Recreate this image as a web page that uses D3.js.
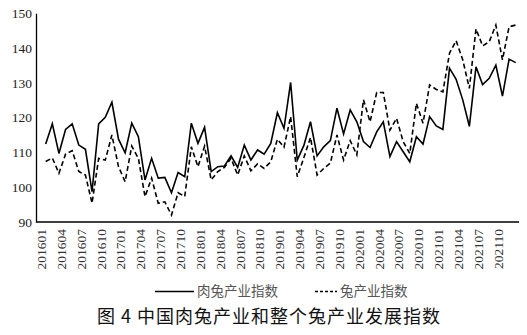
<!DOCTYPE html>
<html><head><meta charset="utf-8">
<script src="https://cdn.jsdelivr.net/npm/d3@7/dist/d3.min.js"></script>
<style>
body{margin:0;background:#fff;}
svg{display:block;}
</style></head>
<body>
<svg id="chart" width="527" height="335"></svg>
<script>
const months = [];
for (let y = 2016; y <= 2021; y++) for (let m = 1; m <= 12; m++) months.push(String(y) + String(m).padStart(2, "0"));

const meatRabbitIndex = [
112.4,118.2,109.7,116.6,118.2,112.1,110.9,98.7,118.2,120.1,124.4,113.8,
109.9,118.4,114.5,102.1,108.3,102.6,102.8,98.4,104.2,103.0,118.4,112.6,
117.2,104.5,105.9,106.1,109.0,105.7,112.1,107.8,110.7,109.5,112.6,121.4,
116.9,130.1,107.8,112.0,118.8,109.0,111.6,113.4,122.7,115.3,122.2,118.8,
113.1,111.4,115.9,118.8,108.8,113.1,110.2,107.3,114.5,112.4,120.3,117.6,
116.6,134.2,131.0,125.1,117.5,134.6,129.5,131.3,135.1,126.2,136.8,135.8
];
const rabbitIndex = [
107.4,108.4,104.0,109.5,110.5,104.5,103.5,95.4,108.3,107.8,115.0,105.9,
101.6,111.8,108.3,97.3,102.6,95.4,95.8,92.0,98.4,97.3,111.6,105.9,
111.8,102.1,104.5,105.7,108.3,103.5,109.0,104.7,106.7,105.4,107.3,113.8,
111.5,120.3,103.0,108.5,114.3,103.5,105.4,106.9,115.0,107.8,113.4,109.3,
125.1,118.8,127.2,127.2,116.4,119.8,113.1,109.7,124.1,118.4,129.4,128.1,
127.4,138.5,142.1,136.6,128.4,145.5,140.6,141.8,146.6,136.6,146.1,146.6
];
const yTicks = [90, 100, 110, 120, 130, 140, 150];
const xTickLabels = months.filter((d, i) => i % 3 === 0);
const seriesNames = ["肉兔产业指数", "兔产业指数"];
const title = "图 4 中国肉兔产业和整个兔产业发展指数";

const svg = d3.select("#chart");
const x = d3.scalePoint().domain(months).range([45.7, 515.7]);
const y = d3.scaleLinear().domain([90, 150]).range([222, 13.2]);

// Y axis
const yAxis = svg.append("g").attr("transform", "translate(36,0)")
  .call(d3.axisLeft(y).tickValues(yTicks).tickSize(0).tickPadding(4).tickSizeOuter(0));
yAxis.select(".domain").attr("stroke", "#000").attr("stroke-width", 1.3);
yAxis.selectAll("text").attr("font-family", "'Liberation Serif', serif").attr("font-size", 13.5).attr("fill", "#222");

// X axis
const xAxis = svg.append("g").attr("transform", "translate(0,222)")
  .call(d3.axisBottom(x).tickValues(xTickLabels).tickSize(0));
xAxis.select(".domain").remove();
xAxis.selectAll("text")
  .attr("transform", "rotate(-90)")
  .attr("text-anchor", "end")
  .attr("x", -7).attr("y", -5).attr("dy", "0.35em")
  .attr("font-family", "'Liberation Serif', serif").attr("font-size", 13.5).attr("fill", "#333");
svg.append("line").attr("x1", 36).attr("x2", 519).attr("y1", 222).attr("y2", 222)
  .attr("stroke", "#000").attr("stroke-width", 1.3);

// Lines
const line = d3.line().x((d, i) => x(months[i])).y(d => y(d));
svg.append("path").datum(meatRabbitIndex).attr("d", line)
  .attr("fill", "none").attr("stroke", "#000").attr("stroke-width", 1.6).attr("stroke-linejoin", "miter");
svg.append("path").datum(rabbitIndex).attr("d", line)
  .attr("fill", "none").attr("stroke", "#000").attr("stroke-width", 1.6).attr("stroke-dasharray", "5,3");

// Legend
const lg = svg.append("g");
lg.append("line").attr("x1", 155).attr("x2", 194).attr("y1", 291.5).attr("y2", 291.5).attr("stroke", "#000").attr("stroke-width", 1.6);
lg.append("text").attr("x", 197).attr("y", 291.5).attr("dy", "0.35em").text(seriesNames[0])
  .attr("font-family", "'Noto Sans CJK SC', sans-serif").attr("font-size", 13.5).attr("fill", "#555");
lg.append("line").attr("x1", 315).attr("x2", 337).attr("y1", 291.5).attr("y2", 291.5).attr("stroke", "#000").attr("stroke-width", 1.6).attr("stroke-dasharray", "3,2");
lg.append("text").attr("x", 340).attr("y", 291.5).attr("dy", "0.35em").text(seriesNames[1])
  .attr("font-family", "'Noto Sans CJK SC', sans-serif").attr("font-size", 13.5).attr("fill", "#555");

// Title
svg.append("text").attr("x", 269).attr("y", 317).attr("dy", "0.35em").attr("text-anchor", "middle")
  .attr("font-family", "'Noto Sans CJK SC', sans-serif").attr("font-size", 18).attr("letter-spacing", 1)
  .attr("fill", "#111").text(title);
</script>
</body></html>
